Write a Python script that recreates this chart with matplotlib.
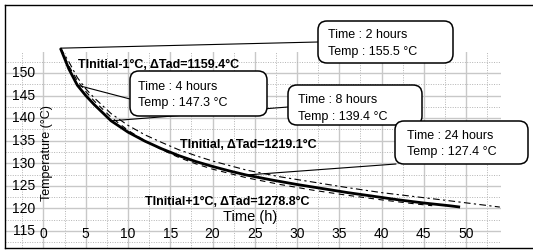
import matplotlib
matplotlib.use("Agg")
import matplotlib.pyplot as plt
from matplotlib.patches import FancyBboxPatch
from matplotlib.lines import Line2D
from matplotlib.transforms import IdentityTransform
import numpy as np

plt.rcParams['font.family'] = ['Liberation Sans', 'DejaVu Sans']

# ---- data ----
t_initial = [2, 3, 4, 5, 6, 8, 10, 12, 14, 16, 18, 20, 22, 24, 27, 30, 33, 36, 39, 42, 45, 48, 49.3]
T_initial = [155.5, 150.9, 147.3, 145.0, 143.0, 139.4, 136.9, 134.9, 133.2, 131.7, 130.4, 129.3,
             128.3, 127.4, 126.3, 125.3, 124.4, 123.5, 122.7, 121.9, 121.2, 120.6, 120.3]

t_minus = [2, 3, 4, 5, 6, 8, 10, 12, 14, 16, 18, 20, 24, 28, 32, 36, 40, 44, 48, 51, 54]
T_minus = [155.5, 152.5, 149.0, 146.5, 144.5, 141.0, 138.4, 136.3, 134.6, 133.0, 131.7, 130.5,
           128.5, 127.0, 125.8, 124.6, 123.5, 122.6, 121.7, 121.0, 120.3]

t_plus = [2, 3, 4, 5, 6, 8, 10, 12, 14, 16, 18, 20, 24, 28, 32, 36, 40, 44, 46]
T_plus = [155.5, 151.6, 148.3, 145.9, 143.8, 140.2, 137.3, 135.0, 133.0, 131.3, 129.9, 128.7,
          126.8, 125.3, 124.0, 122.9, 121.9, 121.0, 120.6]

ann_hours = [2, 4, 8, 24]
ann_temps = [155.5, 147.3, 139.4, 127.4]

x_ticks = [0, 5, 10, 15, 20, 25, 30, 35, 40, 45, 50]
y_ticks = [115, 120, 125, 130, 135, 140, 145, 150]

curve_labels = ["TInitial-1\u00b0C, \u0394Tad=1159.4\u00b0C",
                "TInitial, \u0394Tad=1219.1\u00b0C",
                "TInitial+1\u00b0C, \u0394Tad=1278.8\u00b0C"]
x_title = "Time (h)"
y_title = "Temperature (\u00b0C)"

# ---- figure ----
W, H = 533, 251
fig = plt.figure(figsize=(W / 100, H / 100), dpi=100)
ax = fig.add_axes([5 / W, 2 / H, 496 / W, 196 / H])
ax.set_xlim(-4.556, 54.14)
ax.set_ylim(111.23, 154.65)
for s in ax.spines.values():
    s.set_visible(False)
ax.set_xticks(np.arange(0, 55, 5))
ax.set_xticks(np.arange(-2.5, 54, 5), minor=True)
ax.set_yticks(np.arange(115, 155, 5))
ax.set_yticks(np.arange(112.5, 154, 5), minor=True)
ax.tick_params(which='both', length=0, labelbottom=False, labelleft=False)
ax.grid(which='major', color='#c8c8c8', lw=1.0, ls='-')
ax.grid(which='minor', color='#b4b4b4', lw=0.7, ls=(0, (1, 1.5)))
ax.set_axisbelow(True)

# curves
ax.plot(t_minus, T_minus, color='black', lw=0.8, ls=(0, (6, 3, 2, 3)), clip_on=False, zorder=3)
ax.plot(t_plus, T_plus, color='black', lw=0.8, ls=(0, (5, 4)), clip_on=False, zorder=3)
ax.plot(t_initial, T_initial, color='black', lw=2.0, clip_on=False, zorder=4, solid_capstyle='butt')

# tick labels as text inside the plot
for v in y_ticks:
    ax.text(-1.0, v + 0.15, str(v), ha='right', va='center', fontsize=10)
for v in x_ticks:
    ax.text(v, 114.5, str(v), ha='center', va='center', fontsize=10)

ax.text(24.4, 118.4, x_title, ha='center', va='center', fontsize=10.5)
ax.text(0.45, 132.5, y_title, ha='center', va='center', rotation=90, fontsize=9)

# curve labels
ax.text(4.08, 152.0, curve_labels[0], ha='left', va='center', fontsize=9, fontweight='bold')
ax.text(16.15, 134.3, curve_labels[1], ha='left', va='center', fontsize=9, fontweight='bold')
ax.text(12.0, 121.6, curve_labels[2], ha='left', va='center', fontsize=9, fontweight='bold')

# annotation boxes (layout in pixels, top-left origin)
boxes = [  # x0, y0, x1, y1, text_x, line1_y, line2_y, leader_x, leader_y
    (318, 22, 453, 64, 328, 35.5, 52.5, 318, 43),
    (130, 72, 267, 117, 138, 87.5, 103.5, 130, 100),
    (288, 86, 422, 126, 298, 100, 117, 288, 108),
    (395, 122, 528, 165, 407, 136, 152.5, 396, 165),
]
ident = IdentityTransform()
for (h, T), b in zip(zip(ann_hours, ann_temps), boxes):
    x0, y0, x1, y1, tx, l1, l2, lx, ly = b
    ax.annotate('', xy=(h, T), xycoords='data', xytext=(lx, H - ly),
                textcoords='figure pixels', annotation_clip=False,
                arrowprops=dict(arrowstyle='-', lw=0.8, color='black', shrinkA=0, shrinkB=0))
    p = FancyBboxPatch((x0, H - y1), x1 - x0, y1 - y0,
                       boxstyle='round,pad=0,rounding_size=9',
                       transform=ident, fc='white', ec='black', lw=1.1, zorder=5)
    fig.add_artist(p)
    fig.text(tx, H - l1, f"Time : {h} hours", transform=ident, ha='left', va='center', fontsize=9, zorder=6)
    fig.text(tx, H - l2, f"Temp : {T} \u00b0C", transform=ident, ha='left', va='center', fontsize=9, zorder=6)

# outer frame
for xs, ys in [((5, 5), (6, 249)), ((5, 540), (6, 6)), ((5, 540), (249, 249))]:
    fig.add_artist(Line2D(xs, [H - y for y in ys], transform=ident, color='black', lw=1.0, zorder=7))

fig.savefig('out.png', dpi=100)
